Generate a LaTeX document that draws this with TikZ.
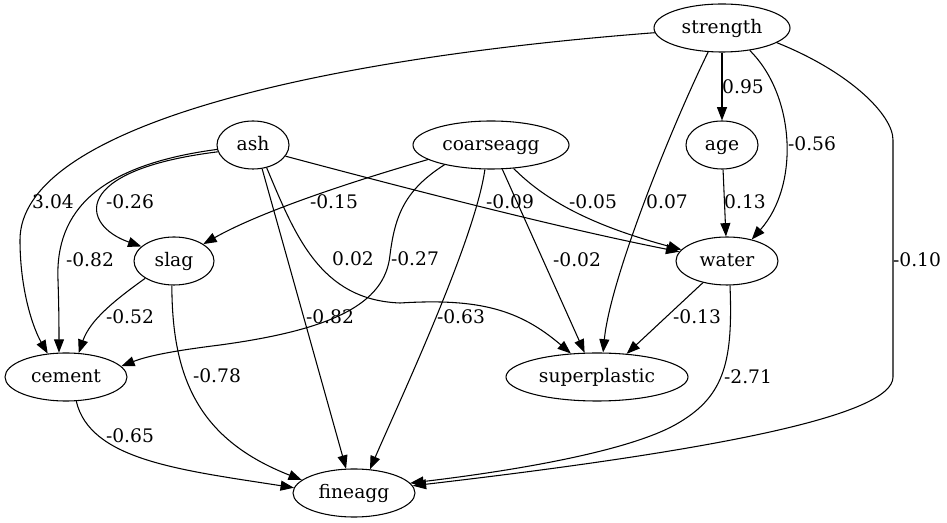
\documentclass[tikz,border=0pt]{standalone}
\usepackage{fontspec}
\setmainfont{DejaVu Serif}
\usetikzlibrary{shapes.geometric,arrows.meta}
\begin{document}
\begin{tikzpicture}[x=0.75pt,y=-0.75pt,
  vnode/.style={draw,ellipse,inner sep=0pt,minimum height=36pt,line width=0.8pt,
    font=\fontsize{14}{16}\selectfont,text height=11.2pt,text depth=2.24pt},
  elabel/.style={inner sep=0pt,font=\fontsize{14}{16}\selectfont},
  conn/.style={draw,line width=0.8pt,-{Triangle[length=10pt,width=7.5pt]}}]
\fill[white] (0,0) rectangle (947,523);
\useasboundingbox (0,0) rectangle (947,523);
% nodes
\node[vnode,minimum width=102pt] (strength) at (722,28) {strength};
\node[vnode,minimum width=54pt] (age) at (722,145) {age};
\node[vnode,minimum width=54pt] (ash) at (253,145) {ash};
\node[vnode,minimum width=117pt] (coarseagg) at (491,145) {coarseagg};
\node[vnode,minimum width=60pt] (slag) at (174,261) {slag};
\node[vnode,minimum width=76.5pt] (water) at (727,261) {water};
\node[vnode,minimum width=91.5pt] (cement) at (66,377) {cement};
\node[vnode,minimum width=136.5pt] (superplastic) at (597,377) {superplastic};
\node[vnode,minimum width=91.5pt] (fineagg) at (354,493) {fineagg};
% edges
\draw[conn] (strength.184) .. controls (300,60) and (20,130) .. (20,240) .. controls (20,290) and (33,328) .. (cement.128);
\draw[conn] (strength.240) .. controls (670,130) and (610,280) .. (superplastic.76);
\draw[conn] (strength.south) -- (age.north);
\draw[conn] (strength.-39) .. controls (795,95) and (800,185) .. (water.41);
\draw[conn] (strength.-15) .. controls (850,72) and (893,115) .. (893,140) -- (893,377) .. controls (893,415) and (720,450) .. (fineagg.7);
\draw[conn] (age) -- (water);
\draw[conn] (ash.187) .. controls (100,165) and (55,210) .. (58,280) .. controls (59,310) and (59,330) .. (cement.106);
\draw[conn] (ash.191) .. controls (70,170) and (80,225) .. (slag.156);
\draw[conn] (ash.-19) .. controls (420,192) and (560,228) .. (water.169);
\draw[conn] (ash.-59) .. controls (295,235) and (320,300) .. (400,303) .. controls (480,298) and (520,310) .. (superplastic.138);
\draw[conn] (ash.-69) -- (fineagg.108);
\draw[conn] (coarseagg.193) .. controls (350,182) and (260,212) .. (slag.30);
\draw[conn] (coarseagg.203) .. controls (405,190) and (395,215) .. (390,255) .. controls (385,305) and (330,330) .. (220,345) .. controls (180,350) and (150,355) .. (cement.11);
\draw[conn] (coarseagg.-104) .. controls (475,240) and (400,400) .. (fineagg.56);
\draw[conn] (coarseagg.-65) -- (superplastic.117);
\draw[conn] (coarseagg.-46) .. controls (545,200) and (590,225) .. (water.166);
\draw[conn] (slag.211) .. controls (115,300) and (90,320) .. (cement.62);
\draw[conn] (slag.-95) .. controls (172,380) and (200,440) .. (fineagg.166);
\draw[conn] (water.222) -- (superplastic.38);
\draw[conn] (water.-83) .. controls (733,360) and (725,395) .. (680,422) .. controls (635,450) and (520,470) .. (fineagg.10);
\draw[conn] (cement.-67) .. controls (90,460) and (180,470) .. (fineagg.175);
% labels
\node[elabel] (l304) at (53,202) {3.04};
\node[elabel] (l082a) at (90,260) {-0.82};
\node[elabel] (l026) at (130,202) {-0.26};
\node[elabel] (l052) at (130,317) {-0.52};
\node[elabel] (l078) at (217,376) {-0.78};
\node[elabel] (l015) at (334,202) {-0.15};
\node[elabel] (l002a) at (353,259) {0.02};
\node[elabel] (l027) at (415,259) {-0.27};
\node[elabel] (l082b) at (330,317) {-0.82};
\node[elabel] (l063) at (461,317) {-0.63};
\node[elabel] (l009) at (510,202) {-0.09};
\node[elabel] (l005) at (593,202) {-0.05};
\node[elabel] (l002b) at (577,260) {-0.02};
\node[elabel] (l007) at (667,202) {0.07};
\node[elabel] (l095) at (743,87) {0.95};
\node[elabel] (l056) at (812,144) {-0.56};
\node[elabel] (l013a) at (745,202) {0.13};
\node[elabel] (l010) at (917,260) {-0.10};
\node[elabel] (l013b) at (697,317) {-0.13};
\node[elabel] (l271) at (748,377) {-2.71};
\node[elabel] (l065) at (130,436) {-0.65};
\end{tikzpicture}
\end{document}
